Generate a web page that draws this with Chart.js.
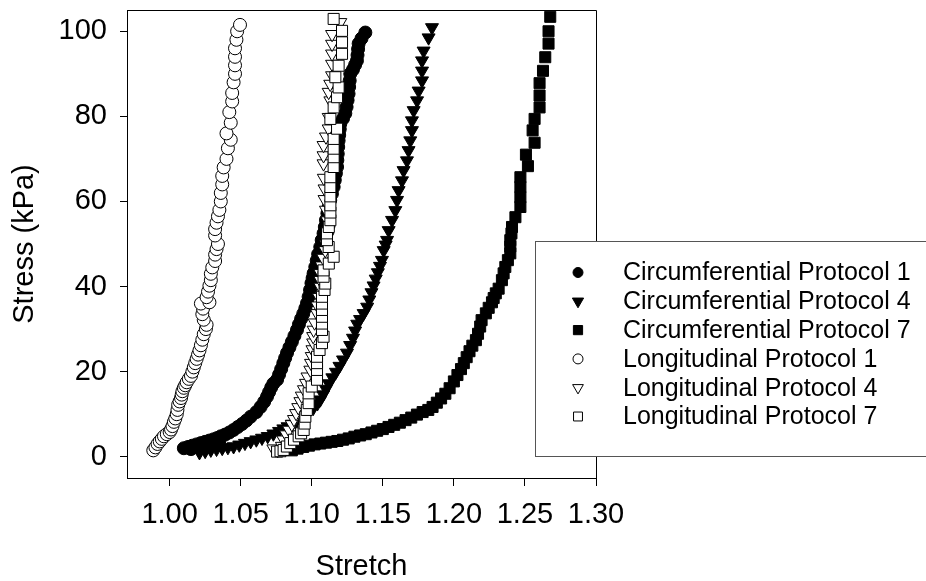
<!DOCTYPE html>
<html>
<head>
<meta charset="utf-8">
<script src="https://cdn.jsdelivr.net/npm/chart.js@4.4.1/dist/chart.umd.min.js"></script>
<style>
    body { margin: 0; background: #fff; }
</style>
</head>
<body>
<canvas id="stressChart" width="926" height="581"></canvas>
<script>
// axis ticks
const xTicks = [1.00, 1.05, 1.10, 1.15, 1.20, 1.25, 1.30];
const yTicks = [0, 20, 40, 60, 80, 100];

const seriesNames = [
    'Circumferential Protocol 1',
    'Circumferential Protocol 4',
    'Circumferential Protocol 7',
    'Longitudinal Protocol 1',
    'Longitudinal Protocol 4',
    'Longitudinal Protocol 7'
];

// [stretch, stress kPa]
const circ1 = [
    [1.010, 2.0], [1.013, 2.3], [1.015, 1.8], [1.016, 2.6], [1.019, 2.9], [1.020, 2.2], [1.022, 3.2],
    [1.025, 3.5], [1.027, 2.9], [1.028, 3.8], [1.031, 4.1], [1.0335, 4.4], [1.035, 3.8], [1.036, 4.8],
    [1.039, 5.2], [1.042, 5.7], [1.045, 6.3], [1.048, 7.0], [1.051, 7.7], [1.054, 8.5], [1.057, 9.4],
    [1.061, 10.5], [1.064, 11.7], [1.0665, 12.9], [1.0685, 14.1], [1.070, 15.2], [1.0715, 16.3],
    [1.073, 17.2], [1.0756, 18.1], [1.077, 19.3], [1.0785, 20.6], [1.080, 22.0], [1.0813, 23.2],
    [1.0826, 24.4], [1.0843, 25.7], [1.086, 27.0], [1.0878, 28.4], [1.0896, 29.8], [1.091, 31.1],
    [1.0925, 32.4], [1.094, 33.6], [1.0955, 34.9], [1.0967, 36.1], [1.0978, 37.6], [1.0988, 39.2],
    [1.0998, 40.8], [1.1006, 42.0], [1.1013, 43.1], [1.1025, 44.6], [1.1035, 46.1], [1.1045, 47.6],
    [1.106, 49.3], [1.107, 50.9], [1.1083, 52.5], [1.1092, 54.0], [1.110, 55.6], [1.111, 57.2],
    [1.1119, 58.7], [1.113, 60.3], [1.1142, 61.8], [1.1154, 63.4], [1.1162, 65.0], [1.117, 66.6],
    [1.1178, 68.1], [1.118, 69.7], [1.1183, 71.2], [1.1186, 72.8], [1.1189, 74.3], [1.1193, 75.6],
    [1.1197, 77.0], [1.1201, 78.3], [1.122, 79.5], [1.1236, 80.7], [1.1245, 82.2], [1.1252, 83.8],
    [1.1259, 85.3], [1.1263, 86.9], [1.1267, 88.4], [1.1271, 90.0], [1.129, 91.0], [1.1305, 92.1],
    [1.1318, 93.1], [1.1322, 94.4], [1.1326, 95.8], [1.133, 97.1], [1.135, 98.3], [1.1377, 99.7]
];

const circ4 = [
    [1.021, 1.0], [1.025, 1.3], [1.029, 1.6], [1.033, 1.8], [1.037, 2.0], [1.041, 2.2], [1.045, 2.4],
    [1.049, 2.8], [1.053, 3.2], [1.057, 3.6], [1.061, 4.0], [1.065, 4.4], [1.069, 4.8], [1.073, 5.4],
    [1.077, 6.0], [1.080, 6.6], [1.083, 7.1], [1.086, 7.7], [1.089, 8.3], [1.092, 9.0], [1.095, 9.7],
    [1.098, 10.5], [1.101, 11.4], [1.104, 12.5], [1.106, 13.4], [1.108, 14.6], [1.110, 15.9],
    [1.112, 17.2], [1.1145, 18.6], [1.117, 19.9], [1.1195, 21.3], [1.122, 22.8], [1.1248, 24.4],
    [1.127, 26.2], [1.129, 27.9], [1.1305, 29.6], [1.132, 31.2], [1.134, 32.3], [1.1365, 33.7],
    [1.139, 35.2], [1.1405, 36.9], [1.142, 38.6], [1.1435, 40.2], [1.145, 41.8], [1.1465, 43.3],
    [1.148, 44.8], [1.1494, 46.2], [1.1506, 48.5], [1.152, 49.8], [1.153, 50.9], [1.1541, 53.2],
    [1.1565, 55.6], [1.1588, 57.9], [1.160, 60.3], [1.1611, 62.6], [1.1635, 64.9], [1.1646, 67.3],
    [1.167, 69.6], [1.1681, 72.0], [1.1693, 74.3], [1.1705, 76.7], [1.1705, 79.0], [1.1717, 81.4],
    [1.1741, 83.7], [1.1752, 86.0], [1.1776, 88.4], [1.1776, 90.7], [1.1776, 93.1], [1.1787, 95.4],
    [1.1822, 98.5], [1.1846, 100.9]
];

const circ7 = [
    [1.086, 1.5], [1.090, 1.9], [1.094, 2.3], [1.098, 2.6], [1.102, 2.9], [1.106, 3.1], [1.110, 3.3],
    [1.114, 3.5], [1.118, 3.7], [1.122, 4.0], [1.126, 4.3], [1.130, 4.7], [1.134, 5.0], [1.138, 5.3],
    [1.142, 5.7], [1.146, 6.1], [1.150, 6.5], [1.154, 7.0], [1.158, 7.5], [1.162, 8.0], [1.166, 8.6],
    [1.170, 9.2], [1.174, 9.9], [1.178, 10.5], [1.182, 11.0], [1.185, 11.7], [1.188, 12.7],
    [1.191, 13.7], [1.194, 14.8], [1.197, 16.1], [1.200, 17.7], [1.2025, 19.2], [1.205, 20.6],
    [1.207, 22.0], [1.209, 23.4], [1.211, 24.8], [1.213, 26.1], [1.2155, 27.4], [1.217, 28.9],
    [1.2185, 30.6], [1.2195, 32.1], [1.2225, 33.7], [1.2245, 35.0], [1.2268, 36.3], [1.228, 37.3],
    [1.2295, 38.4], [1.2315, 39.5], [1.2338, 41.5], [1.235, 43.1], [1.2362, 44.6], [1.238, 46.2],
    [1.2397, 47.8], [1.2397, 49.4], [1.2397, 50.9], [1.2405, 52.5], [1.2409, 54.0], [1.2433, 56.3],
    [1.2468, 58.7], [1.2468, 61.0], [1.2468, 63.4], [1.2468, 65.7], [1.2521, 68.3], [1.2507, 71.0],
    [1.2568, 73.8], [1.2554, 76.7], [1.2568, 79.4], [1.2603, 82.1], [1.2603, 84.9], [1.2603, 87.8],
    [1.2627, 90.7], [1.2643, 93.9], [1.2666, 97.1], [1.2666, 100.0], [1.2678, 103.4]
];

const long1 = [
    [0.9885, 1.5], [0.990, 2.2], [0.9915, 3.0], [0.993, 3.6], [0.9945, 4.2], [0.996, 4.8], [0.998, 5.3],
    [1.000, 5.8], [1.001, 6.4], [1.002, 7.2], [1.003, 8.2], [1.004, 9.0], [1.005, 10.0], [1.0055, 11.0],
    [1.006, 12.2], [1.007, 13.0], [1.008, 13.8], [1.0085, 14.6], [1.009, 15.4], [1.010, 16.2],
    [1.011, 16.8], [1.012, 17.5], [1.0135, 18.3], [1.015, 19.0], [1.016, 20.0], [1.017, 21.0],
    [1.018, 22.0], [1.019, 23.0], [1.020, 24.0], [1.021, 25.0], [1.022, 26.2], [1.023, 27.5],
    [1.024, 28.8], [1.0255, 30.0], [1.026, 31.0], [1.024, 32.2], [1.023, 33.5], [1.0235, 34.8],
    [1.022, 36.0], [1.028, 36.3], [1.026, 37.5], [1.027, 38.8], [1.028, 40.2], [1.029, 41.5],
    [1.029, 43.0], [1.030, 44.5], [1.032, 46.0], [1.032, 47.5], [1.033, 48.8], [1.034, 50.0],
    [1.032, 52.0], [1.032, 53.5], [1.033, 55.0], [1.034, 56.5], [1.035, 58.0], [1.036, 60.0],
    [1.036, 62.0], [1.037, 64.0], [1.037, 66.0], [1.038, 68.0], [1.040, 70.0], [1.041, 72.5],
    [1.043, 74.5], [1.040, 76.0], [1.043, 78.5], [1.042, 81.0], [1.044, 83.5], [1.044, 85.5],
    [1.045, 88.0], [1.046, 90.0], [1.046, 92.0], [1.046, 94.0], [1.046, 96.0], [1.047, 98.0],
    [1.0475, 100.0], [1.0495, 101.5]
];

const long4 = [
    [1.073, 1.9], [1.076, 1.5], [1.079, 2.5], [1.080, 4.0], [1.082, 5.2], [1.084, 6.3], [1.086, 7.6],
    [1.0875, 8.8], [1.089, 10.2], [1.0905, 11.6], [1.092, 13.0], [1.093, 14.3], [1.0945, 15.8],
    [1.096, 17.3], [1.097, 18.8], [1.099, 20.4], [1.0995, 22.0], [1.100, 23.6], [1.1005, 25.2],
    [1.101, 26.8], [1.101, 28.3], [1.1013, 29.8], [1.102, 31.5], [1.1037, 33.7], [1.104, 35.5],
    [1.105, 37.5], [1.106, 39.9], [1.106, 41.5], [1.106, 43.1], [1.107, 44.9], [1.108, 46.7],
    [1.1095, 48.5], [1.110, 50.0], [1.111, 51.6], [1.1119, 53.2], [1.111, 55.5], [1.110, 58.0],
    [1.109, 60.5], [1.109, 63.0], [1.1085, 65.5], [1.1083, 68.9], [1.1083, 70.8], [1.1083, 73.2],
    [1.110, 75.2], [1.1119, 77.1], [1.1119, 79.8], [1.1131, 83.7], [1.1119, 85.7], [1.113, 87.6],
    [1.1143, 89.6], [1.1143, 92.3], [1.1143, 94.7], [1.1143, 97.0], [1.1143, 99.3], [1.1201, 102.1]
];

const long7 = [
    [1.0756, 1.2], [1.078, 1.3], [1.0802, 1.6], [1.0825, 2.4], [1.0849, 3.2], [1.0875, 4.0],
    [1.0908, 4.8], [1.0925, 5.5], [1.0943, 6.3], [1.095, 7.8], [1.0955, 9.4], [1.0965, 11.0],
    [1.0978, 12.6], [1.0978, 14.9], [1.100, 16.5], [1.1037, 18.1], [1.1037, 20.4], [1.1037, 22.0],
    [1.1037, 23.5], [1.1055, 25.1], [1.1072, 26.7], [1.1083, 28.2], [1.1072, 29.8], [1.1072, 31.3],
    [1.1072, 32.9], [1.1072, 34.5], [1.1072, 36.0], [1.1072, 37.6], [1.109, 39.2], [1.1095, 40.7],
    [1.1083, 42.3], [1.1083, 43.8], [1.112, 45.4], [1.1154, 47.0], [1.1119, 49.3], [1.1107, 50.9],
    [1.1107, 52.5], [1.112, 54.0], [1.1131, 55.6], [1.1131, 57.4], [1.1131, 59.1], [1.1131, 61.2],
    [1.1131, 63.4], [1.1131, 65.7], [1.1154, 68.1], [1.1154, 70.4], [1.1154, 72.4], [1.1154, 74.7],
    [1.1178, 77.1], [1.1131, 79.4], [1.1154, 82.1], [1.1178, 84.5], [1.1189, 86.8], [1.1166, 89.2],
    [1.1189, 91.9], [1.1213, 94.7], [1.1213, 97.4], [1.1213, 100.1], [1.1154, 102.9]
];

const FONT = "'Liberation Sans', Arial, sans-serif";
Chart.defaults.font.family = FONT;
Chart.defaults.color = '#000';

function toPoints(rows) {
    return rows.map(r => ({x: r[0], y: r[1]}));
}

// marker look per series: [pointStyle, rotation, filled, radius in plot, radius in legend]
const markers = [
    ['circle', 0, true, 6.5, 5],
    ['triangle', 180, true, 7.5, 6.5],
    ['rect', 0, true, 7.8, 6.5],
    ['circle', 0, false, 6.5, 5],
    ['triangle', 180, false, 7.5, 6.2],
    ['rect', 0, false, 7.8, 6.3]
];
const drawOrder = [3, 3, 3, 2, 1, 0];
const allSeries = [circ1, circ4, circ7, long1, long4, long7];

const datasets = allSeries.map((rows, i) => ({
    label: seriesNames[i],
    data: toPoints(rows),
    pointStyle: markers[i][0],
    rotation: markers[i][1],
    pointRadius: markers[i][3],
    backgroundColor: markers[i][2] ? '#000' : '#fff',
    borderColor: '#000',
    borderWidth: 1,
    showLine: false,
    order: drawOrder[i]
}));

// top/right frame and the boxed legend laid over the plot
const framePlugin = {
    id: 'framePlugin',
    afterDraw(chart) {
        const c = chart.ctx;
        const a = chart.chartArea;
        c.save();
        c.strokeStyle = '#000';
        c.lineWidth = 1;
        c.beginPath();
        c.moveTo(Math.round(a.left) + 0.5, Math.round(a.top) + 0.5);
        c.lineTo(Math.round(a.right) + 0.5, Math.round(a.top) + 0.5);
        c.lineTo(Math.round(a.right) + 0.5, Math.round(a.bottom) + 0.5);
        c.stroke();

        const bx = 535.5, by = 241.5;
        c.fillStyle = '#fff';
        c.fillRect(bx, by, 420, 215);
        c.strokeStyle = '#555';
        c.strokeRect(bx, by, 420, 215);

        c.font = '25px ' + FONT;
        c.textBaseline = 'middle';
        c.textAlign = 'left';
        seriesNames.forEach((name, i) => {
            const y = 272.5 + i * 28.8;
            const m = markers[i];
            c.fillStyle = m[2] ? '#000' : '#fff';
            c.strokeStyle = '#000';
            c.lineWidth = 1;
            Chart.helpers.drawPoint(c, {pointStyle: m[0], rotation: m[1], radius: m[4], borderWidth: 1}, 578, y);
            c.fillStyle = '#000';
            c.fillText(name, 623, y + 1);
        });
        c.restore();
    }
};

const ctx = document.getElementById('stressChart').getContext('2d');
const stressChart = new Chart(ctx, {
    type: 'scatter',
    data: {datasets: datasets},
    options: {
        responsive: false,
        animation: false,
        layout: {padding: {top: 10, right: 330, bottom: 0, left: 0}},
        plugins: {
            legend: {display: false},
            tooltip: {enabled: false}
        },
        scales: {
            x: {
                type: 'linear',
                min: 0.97,
                max: 1.30,
                afterBuildTicks: scale => { scale.ticks = xTicks.map(v => ({value: v})); },
                afterFit: scale => {
                    scale.height = 103;
                    scale.paddingLeft = 0;
                    scale.paddingRight = 0;
                },
                ticks: {
                    callback: v => v.toFixed(2),
                    font: {size: 29},
                    color: '#000',
                    padding: 12,
                    maxRotation: 0,
                    autoSkip: false
                },
                grid: {drawOnChartArea: false, tickLength: 8, color: '#000'},
                border: {color: '#000', width: 1},
                title: {
                    display: true,
                    text: 'Stretch',
                    font: {size: 29, lineHeight: 1},
                    color: '#000',
                    padding: {top: 0, bottom: 0}
                }
            },
            y: {
                type: 'linear',
                min: -5,
                max: 105,
                afterBuildTicks: scale => { scale.ticks = yTicks.map(v => ({value: v})); },
                afterFit: scale => {
                    scale.width = 127;
                    scale.paddingTop = 0;
                    scale.paddingBottom = 0;
                },
                ticks: {
                    font: {size: 29},
                    color: '#000',
                    padding: 13
                },
                grid: {drawOnChartArea: false, tickLength: 7, color: '#000'},
                border: {color: '#000', width: 1},
                title: {
                    display: true,
                    text: 'Stress (kPa)',
                    font: {size: 29, lineHeight: 1},
                    color: '#000',
                    padding: {top: 10, bottom: 0}
                }
            }
        }
    },
    plugins: [framePlugin]
});
</script>
</body>
</html>
